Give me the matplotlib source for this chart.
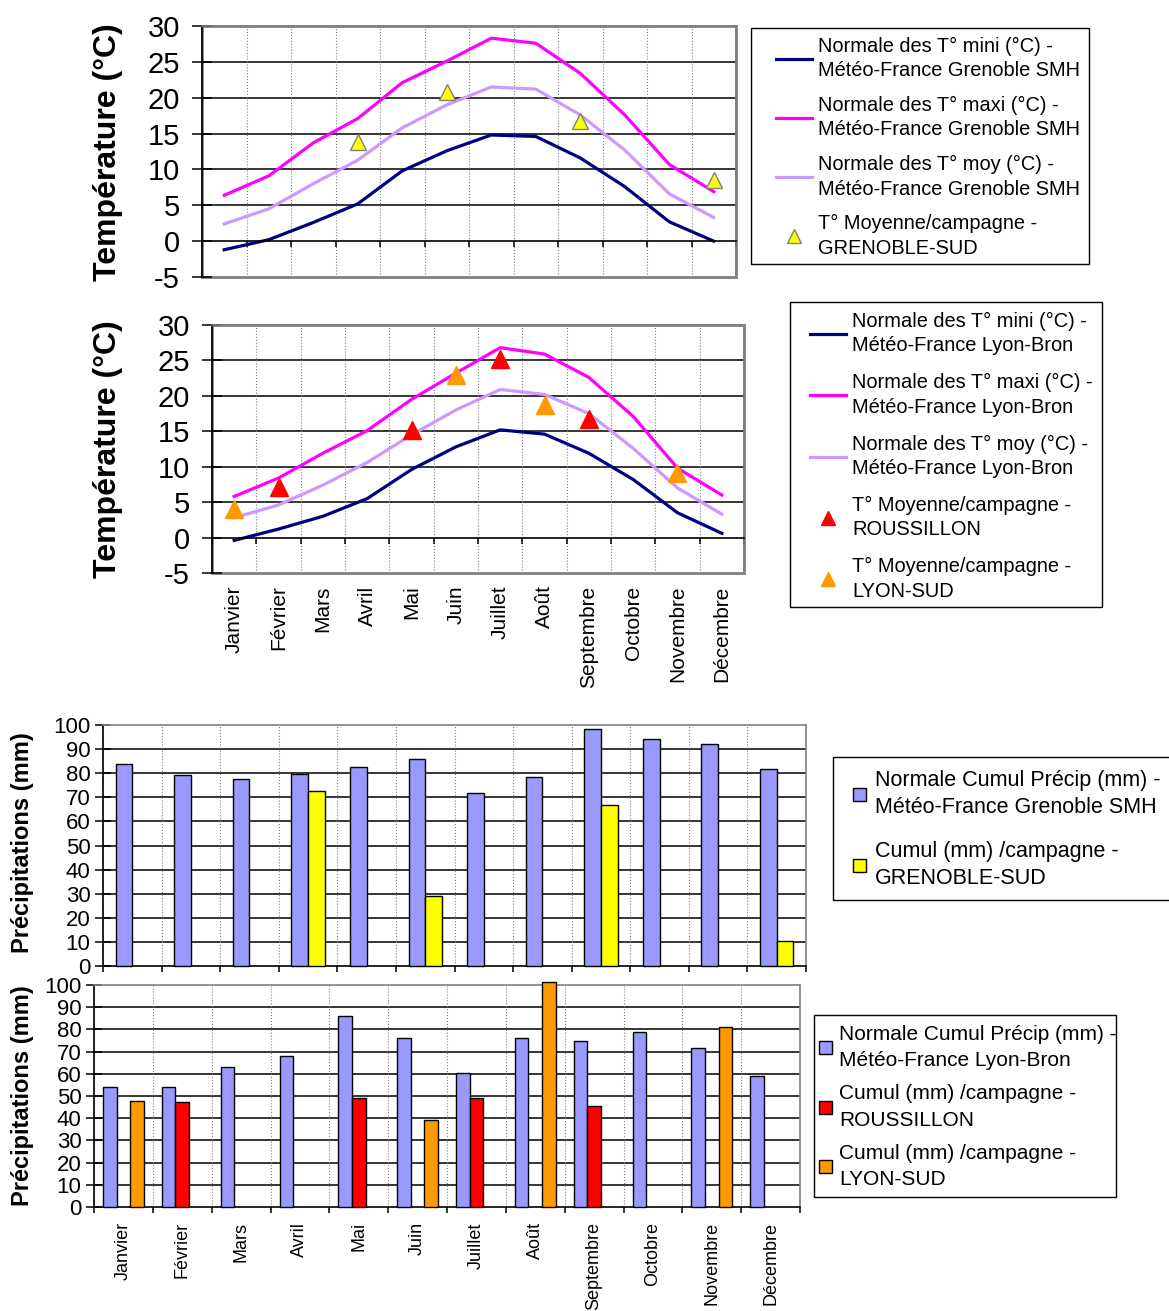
"""
Temperature and precipitation normals vs. campaign measurements
(Grenoble and Lyon areas): two line charts + two clustered bar charts.
"""
import numpy as np
import matplotlib
matplotlib.use("Agg")
import matplotlib.pyplot as plt
from matplotlib.lines import Line2D
from matplotlib.patches import Rectangle

plt.rcParams["font.family"] = ["Liberation Sans", "DejaVu Sans"]
plt.rcParams["axes.unicode_minus"] = False

nan = np.nan

# --------------------------------------------------------------------------- #
# Data
# --------------------------------------------------------------------------- #
months = ["Janvier", "Février", "Mars", "Avril", "Mai", "Juin", "Juillet",
          "Août", "Septembre", "Octobre", "Novembre", "Décembre"]

# Grenoble SMH normals (°C) and campaign mean at GRENOBLE-SUD
gre_min = [-1.2, 0.2, 2.6, 5.2, 9.8, 12.6, 14.8, 14.6, 11.6, 7.6, 2.7, 0.0]
gre_max = [6.4, 9.1, 13.7, 17.1, 22.1, 25.1, 28.3, 27.6, 23.4, 17.6, 10.7, 6.9]
gre_moy = [2.4, 4.5, 8.0, 11.3, 15.8, 19.0, 21.5, 21.2, 17.6, 12.7, 6.6, 3.3]
gre_sud_t = [nan, nan, nan, 13.8, nan, 20.8, nan, nan, 16.7, nan, nan, 8.5]

# Lyon-Bron normals (°C) and campaign means at ROUSSILLON / LYON-SUD
lyon_min = [-0.4, 1.2, 3.0, 5.5, 9.6, 12.8, 15.2, 14.6, 11.9, 8.2, 3.5, 0.6]
lyon_max = [5.8, 8.4, 11.9, 15.1, 19.5, 23.2, 26.8, 25.9, 22.6, 17.1, 9.8, 6.0]
lyon_moy = [2.8, 4.6, 7.4, 10.6, 14.5, 18.0, 20.9, 20.2, 17.5, 12.6, 7.0, 3.3]
rous_t = [nan, 7.1, nan, nan, 15.2, nan, 25.2, nan, 16.8, nan, nan, nan]
lysud_t = [4.1, nan, nan, nan, nan, 22.9, nan, 18.7, nan, nan, 9.1, nan]

# precipitation (mm)
gre_norm_p = [83.7, 79.1, 77.8, 79.6, 82.4, 85.7, 71.9, 78.5, 98.5, 94.0, 92.1, 81.7]
gre_sud_p = [nan, nan, nan, 72.6, nan, 29.1, nan, nan, 66.8, nan, nan, 10.2]
lyon_norm_p = [54.0, 54.0, 63.2, 68.0, 86.0, 76.2, 60.3, 76.2, 74.7, 78.9, 71.4, 58.9]
rous_p = [nan, 47.1, nan, nan, 49.2, nan, 49.2, nan, 45.6, nan, nan, nan]
lysud_p = [47.7, nan, nan, nan, nan, 39.4, nan, 101.5, nan, nan, 81.2, nan]

# --------------------------------------------------------------------------- #
# Styling
# --------------------------------------------------------------------------- #
W, H = 1169, 1311
NAVY, MAGENTA, LILAC = "#000080", "#FF00FF", "#CC99FF"
BLUE, YELLOW, RED, ORANGE = "#9999FF", "#FFFF00", "#FF0000", "#FF9900"
GRAY = "#808080"

fig = plt.figure(figsize=(W / 100, H / 100), dpi=100)
x = np.arange(len(months))
bounds = np.arange(-0.5, len(months) + 0.5, 1)


def px_axes(l, t, r, b):
    return fig.add_axes([l / W, 1 - b / H, (r - l) / W, (b - t) / H])


def frame(ax, yticks, ylen, ysize, ypad, xaxis_at):
    ax.set_xlim(-0.5, len(months) - 0.5)
    ax.set_ylim(yticks[0], yticks[-1])
    ax.set_yticks(yticks)
    ax.tick_params(axis="y", direction="inout", length=ylen, width=1.1,
                   labelsize=ysize, pad=ypad)
    ax.set_xticks(bounds, [])
    ax.tick_params(axis="x", direction="out", length=4.5, width=1.1)
    ax.grid(axis="x", color=GRAY, ls=":", lw=0.8)
    ax.hlines([v for v in yticks[1:] if v != xaxis_at and v != yticks[-1]],
              0, 1, transform=ax.get_yaxis_transform(), colors="k", lw=1.1,
              zorder=0.5)
    for s in ("top", "right"):
        ax.spines[s].set_color(GRAY)
        ax.spines[s].set_linewidth(1.2)
    ax.spines["left"].set_linewidth(1.2)
    ax.spines["bottom"].set_linewidth(1.2)
    ax.spines["bottom"].set_position(("data", xaxis_at))
    if xaxis_at != yticks[0]:
        ax.patch.set_edgecolor(GRAY)
        ax.patch.set_linewidth(2.0)


def boxed_legend(handles, labels, box, anchor, size, linespacing, **kw):
    l, t, r, b = box
    fig.add_artist(Rectangle((l / W, 1 - b / H), (r - l) / W, (b - t) / H,
                             transform=fig.transFigure, fill=False,
                             edgecolor="k", lw=1.0))
    leg = fig.legend(handles, labels, loc="upper left",
                     bbox_to_anchor=(anchor[0] / W, 1 - anchor[1] / H),
                     frameon=False, borderpad=0, borderaxespad=0,
                     prop={"size": size}, **kw)
    for t in leg.get_texts():
        t.set_linespacing(linespacing)
    return leg


# --------------------------------------------------------------------------- #
# Temperature charts
# --------------------------------------------------------------------------- #
temp_ticks = list(range(-5, 31, 5))
lw = 2.3


def temp_chart(ax, tmin, tmax, tmoy):
    frame(ax, temp_ticks, 14, 21, 9, 0)
    ax.plot(x, tmin, color=NAVY, lw=lw)
    ax.plot(x, tmax, color=MAGENTA, lw=lw)
    ax.plot(x, tmoy, color=LILAC, lw=lw)


ax1 = px_axes(202, 26, 736, 277)
temp_chart(ax1, gre_min, gre_max, gre_moy)
ax1.plot(x, gre_sud_t, ls="none", marker="^", ms=12, mfc=YELLOW, mec=GRAY,
         mew=1.0, zorder=4)

ax2 = px_axes(212, 325, 744, 573)
temp_chart(ax2, lyon_min, lyon_max, lyon_moy)
ax2.plot(x, rous_t, ls="none", marker="^", ms=13, mfc=RED, mec=RED, zorder=4)
ax2.plot(x, lysud_t, ls="none", marker="^", ms=13, mfc=ORANGE, mec=ORANGE,
         zorder=4)
sec = ax2.secondary_xaxis(0.0)
sec.set_xticks(x, months, rotation=90, va="top", ha="center")
sec.tick_params(length=0, pad=9, labelsize=15)
sec.spines["bottom"].set_visible(False)

for cy in (152, 449):
    fig.text(108 / W, 1 - cy / H, "Température (°C)", rotation=90,
             ha="center", va="center", fontsize=23, fontweight="bold")

gre_lbl = "Météo-France Grenoble SMH"
boxed_legend(
    [Line2D([], [], color=NAVY, lw=lw), Line2D([], [], color=MAGENTA, lw=lw),
     Line2D([], [], color=LILAC, lw=lw),
     Line2D([], [], ls="none", marker="^", ms=10, mfc=YELLOW, mec=GRAY)],
    [f"Normale des T° mini (°C) -\n{gre_lbl}",
     f"Normale des T° maxi (°C) -\n{gre_lbl}",
     f"Normale des T° moy (°C) -\n{gre_lbl}",
     "T° Moyenne/campagne -\nGRENOBLE-SUD"],
    (751, 28, 1089, 264), (776, 37), 14.4, 1.35,
    handlelength=1.8, handletextpad=0.3, labelspacing=0.79)

ly_lbl = "Météo-France Lyon-Bron"
boxed_legend(
    [Line2D([], [], color=NAVY, lw=lw), Line2D([], [], color=MAGENTA, lw=lw),
     Line2D([], [], color=LILAC, lw=lw),
     Line2D([], [], ls="none", marker="^", ms=10, mfc=RED, mec=RED),
     Line2D([], [], ls="none", marker="^", ms=10, mfc=ORANGE, mec=ORANGE)],
    [f"Normale des T° mini (°C) -\n{ly_lbl}",
     f"Normale des T° maxi (°C) -\n{ly_lbl}",
     f"Normale des T° moy (°C) -\n{ly_lbl}",
     "T° Moyenne/campagne -\nROUSSILLON",
     "T° Moyenne/campagne -\nLYON-SUD"],
    (790, 302, 1102, 607), (810, 312), 14.4, 1.35,
    handlelength=1.8, handletextpad=0.3, labelspacing=0.9)

# --------------------------------------------------------------------------- #
# Precipitation charts
# --------------------------------------------------------------------------- #
precip_ticks = list(range(0, 101, 10))
bar_kw = dict(edgecolor="k", linewidth=1.0, clip_on=False, zorder=3)

ax3 = px_axes(103, 725, 806, 966)
frame(ax3, precip_ticks, 12, 16, 3, 0)
w3 = 0.285
ax3.bar(x - w3 / 2, gre_norm_p, w3, color=BLUE, **bar_kw)
ax3.bar(x + w3 / 2, gre_sud_p, w3, color=YELLOW, **bar_kw)

ax4 = px_axes(94, 985, 800, 1207)
frame(ax4, precip_ticks, 12, 16, 3, 0)
w4 = 0.23
ax4.bar(x - w4, lyon_norm_p, w4, color=BLUE, **bar_kw)
ax4.bar(x, rous_p, w4, color=RED, **bar_kw)
ax4.bar(x + w4, lysud_p, w4, color=ORANGE, **bar_kw)
ax4.set_xticks(x, months, minor=True, rotation=90, va="top", ha="center")
ax4.tick_params(axis="x", which="minor", length=0, pad=11, labelsize=13)

for cy in (843, 1096):
    fig.text(23 / W, 1 - cy / H, "Précipitations (mm)", rotation=90,
             ha="center", va="center", fontsize=17, fontweight="bold")


def sq(c):
    return Rectangle((0, 0), 1, 1, facecolor=c, edgecolor="k", lw=1.0)


boxed_legend(
    [sq(BLUE), sq(YELLOW)],
    ["Normale Cumul Précip (mm) -\nMétéo-France Grenoble SMH",
     "Cumul (mm) /campagne -\nGRENOBLE-SUD"],
    (833, 757, 1175, 900), (853, 770), 15.5, 1.4,
    handlelength=0.6, handleheight=0.6, handletextpad=0.4, labelspacing=1.05)

boxed_legend(
    [sq(BLUE), sq(RED), sq(ORANGE)],
    ["Normale Cumul Précip (mm) -\nMétéo-France Lyon-Bron",
     "Cumul (mm) /campagne -\nROUSSILLON",
     "Cumul (mm) /campagne -\nLYON-SUD"],
    (814, 1015, 1116, 1197), (819, 1025), 15.0, 1.48,
    handlelength=0.6, handleheight=0.6, handletextpad=0.35, labelspacing=0.68)

fig.savefig("out.png", dpi=100)
